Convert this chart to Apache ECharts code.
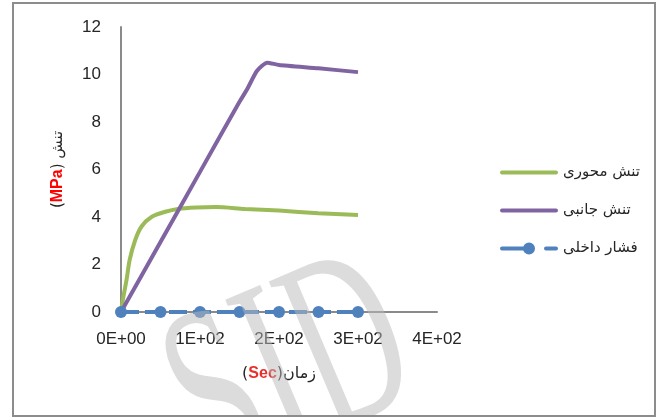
<!DOCTYPE html>
<html>
<head>
<meta charset="utf-8">
<script src="https://cdn.jsdelivr.net/npm/echarts@6/dist/echarts.min.js"></script>
<style>
html,body{margin:0;padding:0;background:#fff;}
#c{width:662px;height:417px;}
</style>
</head>
<body>
<div id="c"></div>
<script>
// ---- data ----
const seriesNames = ['تنش محوری', 'تنش جانبی', 'فشار داخلی'];
const xTickLabels = ['0E+00', '1E+02', '2E+02', '3E+02', '4E+02'];
const axialT = [0, 3, 7, 11, 18, 26, 39, 56, 72, 95, 120, 157, 200, 250, 300];
const axialV = [0, 0.64, 1.35, 2.2, 3.03, 3.6, 4.01, 4.22, 4.34, 4.4, 4.42, 4.34, 4.27, 4.16, 4.08];
const lateralT = [0, 50, 100, 150, 160, 172, 185, 200, 250, 300];
const lateralV = [0, 2.95, 5.9, 8.85, 9.4, 10.15, 10.5, 10.4, 10.26, 10.1];
const pressT = [0, 50, 100, 150, 200, 250, 300];
const pressV = [0, 0, 0, 0, 0, 0, 0];

const pairs = (t, v) => t.map((x, i) => [x, v[i]]);

// legend icons (thick line; dashed line with dot)
const lineIcon = 'path://M0,0 L0.01,0 L0.01,0.01 Z M2,4 L56,4 A2,2 0 0 1 56,8 L2,8 A2,2 0 0 1 2,4 Z M58,12 L57.99,12 L57.99,11.99 Z';
const dashDotIcon = 'path://M0,0 L0.01,0 L0.01,0.01 Z M2,4 L24,4 A2,2 0 0 1 24,8 L2,8 A2,2 0 0 1 2,4 Z M35,6 A6,6 0 1 1 23,6 A6,6 0 1 1 35,6 Z M46,4 L56,4 A2,2 0 0 1 56,8 L46,8 A2,2 0 0 1 46,4 Z M58,12 L57.99,12 L57.99,11.99 Z';

const chart = echarts.init(document.getElementById('c'));
const axisColor = '#8a8a8a';
const labelFont = 'Liberation Sans';
chart.setOption({
  animation: false,
  backgroundColor: '#fff',
  grid: { left: 121, right: 225, top: 27, bottom: 105 },
  xAxis: {
    type: 'value', min: 0, max: 400, interval: 100,
    axisLine: { lineStyle: { color: axisColor, width: 2 } },
    axisTick: { show: false },
    splitLine: { show: false },
    axisLabel: {
      margin: 19, fontSize: 17, color: '#262626', fontFamily: labelFont,
      formatter: v => xTickLabels[Math.round(v / 100)]
    },
    name: '({r|Sec})زمان',
    nameLocation: 'middle', nameGap: 54,
    nameTextStyle: {
      fontSize: 16, color: '#262626', fontFamily: 'DejaVu Sans',
      rich: { r: { color: '#e8302c', fontWeight: 'bold', fontSize: 16, fontFamily: 'Liberation Sans' } }
    }
  },
  yAxis: {
    type: 'value', min: 0, max: 12, interval: 2,
    axisLine: { show: true, lineStyle: { color: axisColor, width: 2 } },
    axisTick: { show: false },
    splitLine: { show: false },
    axisLabel: { margin: 20, fontSize: 17, color: '#262626', fontFamily: labelFont },
    name: '({r|MPa}) تنش',
    nameLocation: 'middle', nameGap: 55,
    nameTextStyle: {
      fontSize: 15, color: '#262626', fontFamily: 'DejaVu Sans',
      rich: { r: { color: '#ff0000', fontWeight: 'bold', fontSize: 16, fontFamily: 'Liberation Sans' } }
    }
  },
  legend: {
    orient: 'vertical', left: 495, top: 160,
    itemWidth: 58, itemHeight: 12, itemGap: 23,
    itemStyle: { borderWidth: 0 },
    textStyle: { fontSize: 15, color: '#262626', fontFamily: 'DejaVu Sans' },
    data: [
      { name: seriesNames[0], icon: lineIcon },
      { name: seriesNames[1], icon: lineIcon },
      { name: seriesNames[2], icon: dashDotIcon }
    ]
  },
  series: [
    {
      name: seriesNames[0], type: 'line', smooth: 0.3, showSymbol: false, symbol: 'none',
      data: pairs(axialT, axialV),
      lineStyle: { color: '#9bbb59', width: 4 }, itemStyle: { color: '#9bbb59' }
    },
    {
      name: seriesNames[1], type: 'line', smooth: 0.2, showSymbol: false, symbol: 'none',
      data: pairs(lateralT, lateralV),
      lineStyle: { color: '#8064a2', width: 4 }, itemStyle: { color: '#8064a2' }
    },
    {
      name: seriesNames[2], type: 'line', symbol: 'circle', symbolSize: 12,
      data: pairs(pressT, pressV),
      lineStyle: { color: '#4f81bd', width: 4, type: [18, 6] }, itemStyle: { color: '#4f81bd' }
    }
  ],
  graphic: [
    {
      type: 'rect', silent: true, z: 200,
      shape: { x: 13, y: 3, width: 642, height: 413 },
      style: { fill: 'none', stroke: '#8c8c8c', lineWidth: 2 }
    },
    {
      type: 'text', silent: true, z: 150,
      x: 292, y: 378, rotation: 0.4, scaleX: 0.58,
      style: {
        text: 'SID', font: '250px "Liberation Serif"',
        fill: 'rgba(185,185,185,0.5)', textAlign: 'center', textVerticalAlign: 'middle'
      }
    }
  ]
});
</script>
</body>
</html>
